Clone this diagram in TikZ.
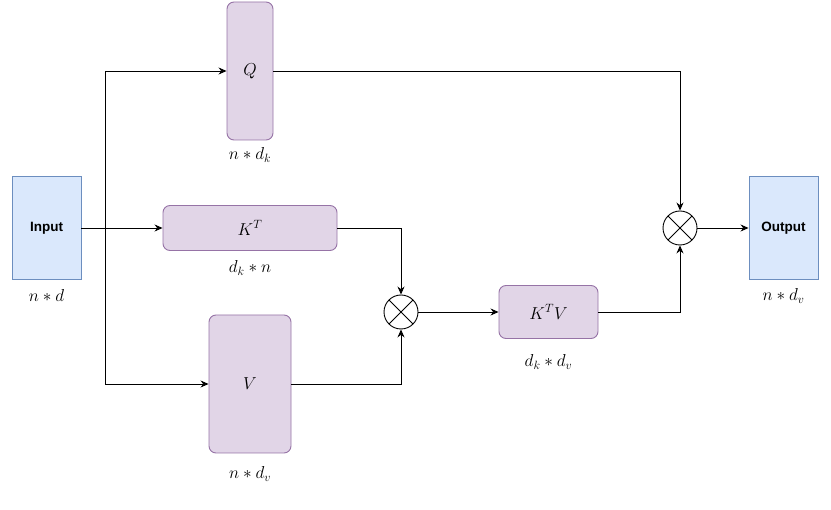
\documentclass[tikz,border=0pt]{standalone}
\usepackage{fontspec}
\setsansfont{Liberation Sans}
\usetikzlibrary{arrows.meta}
\definecolor{bluefill}{HTML}{DAE8FC}
\definecolor{bluedraw}{HTML}{6C8EBF}
\definecolor{purpfill}{HTML}{E1D5E7}
\definecolor{purpdraw}{HTML}{9673A6}
\begin{document}
\begin{tikzpicture}[x=1pt,y=-1pt,
  line width=0.9pt,
  iobox/.style={draw=bluedraw,fill=bluefill,inner sep=0pt,font=\sffamily\bfseries\fontsize{13.5}{15}\selectfont},
  matbox/.style={draw=purpdraw,fill=purpfill,rounded corners=7pt,inner sep=0pt,font=\LARGE},
  mult/.style={draw,circle,minimum size=34pt,inner sep=0pt,path picture={
     \draw[line width=0.9pt] (path picture bounding box.north west) -- (path picture bounding box.south east)
                            (path picture bounding box.north east) -- (path picture bounding box.south west);}},
  dimlbl/.style={font=\LARGE,inner sep=1pt},
  arr/.style={-{Stealth[length=8pt,width=7pt]}}
]
\useasboundingbox (0,0) rectangle (831,510);
\node[iobox,minimum width=69pt,minimum height=103pt] (in) at (46.5,228) {Input};
\node[iobox,minimum width=69pt,minimum height=103pt] (out) at (783.5,228) {Output};
\node[matbox,minimum width=46pt,minimum height=138pt] (q) at (250,71) {$Q$};
\node[matbox,minimum width=174pt,minimum height=45pt] (kt) at (250,228) {$K^T$};
\node[matbox,minimum width=82pt,minimum height=138pt] (v) at (250,384) {$V$};
\node[matbox,minimum width=99pt,minimum height=53pt] (ktv) at (548.5,312) {$K^TV$};
\node[mult] (m1) at (401,312) {};
\node[mult] (m2) at (680,228) {};

\node[dimlbl] (lin) at (46.5,296) {$n*d$};
\node[dimlbl] (lq) at (250,155) {$n*d_k$};
\node[dimlbl] (lkt) at (250,268) {$d_k*n$};
\node[dimlbl] (lv) at (250,474) {$n*d_v$};
\node[dimlbl] (lktv) at (548.5,362) {$d_k*d_v$};
\node[dimlbl] (lout) at (783.5,296) {$n*d_v$};

\coordinate (br) at (105,228);
\draw[arr] (in.east) -- (kt.west);
\draw[arr] (br) |- (q.west);
\draw[arr] (br) |- (v.west);
\draw[arr] (q.east) -| (m2.north);
\draw[arr] (kt.east) -| (m1.north);
\draw[arr] (v.east) -| (m1.south);
\draw[arr] (m1.east) -- (ktv.west);
\draw[arr] (ktv.east) -| (m2.south);
\draw[arr] (m2.east) -- (out.west);
\end{tikzpicture}
\end{document}
